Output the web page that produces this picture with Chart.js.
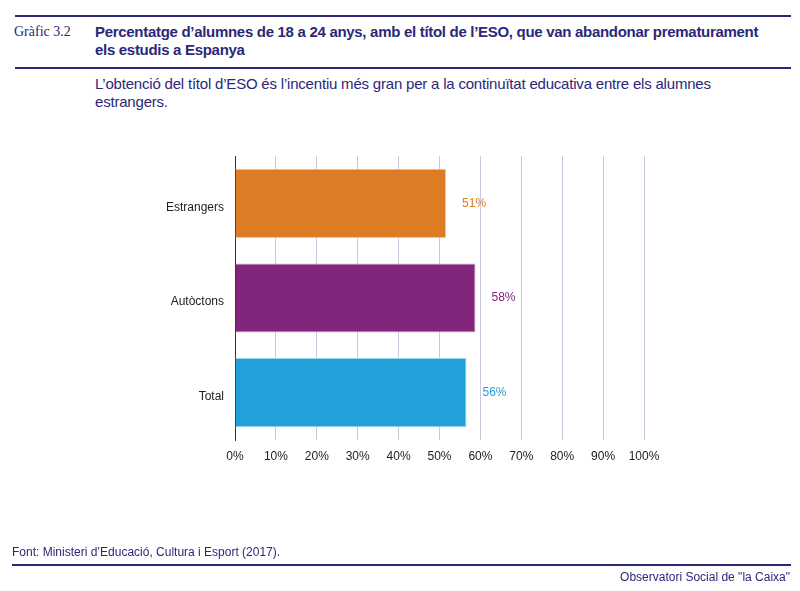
<!DOCTYPE html>
<html>
<head>
<meta charset="utf-8">
<script src="https://cdn.jsdelivr.net/npm/chart.js@4/dist/chart.umd.min.js"></script>
<style>
  html, body { margin: 0; padding: 0; background: #fff; }
  body { width: 800px; height: 591px; position: relative; overflow: hidden; font-family: "Liberation Sans", Arial, sans-serif; color: #2b2878; }
  .rule { position: absolute; left: 15px; width: 776px; height: 2px; background: #2b2878; }
  .abs { position: absolute; white-space: nowrap; }
  #num { left: 14px; top: 24px; font-family: "Liberation Serif", serif; font-size: 14px; color: #2b2878; }
  #title { left: 95px; top: 23px; font-size: 15px; font-weight: bold; line-height: 18px; letter-spacing: -0.3px; }
  #sub { left: 95px; top: 75px; font-size: 15px; line-height: 18px; letter-spacing: -0.2px; }
  #src { left: 12px; top: 545px; font-size: 12px; }
  #brand { right: 10px; top: 570px; font-size: 12px; }
  #wrap { position: absolute; left: 0; top: 0; width: 800px; height: 591px; }
</style>
</head>
<body>
<div class="rule" style="top:15px"></div>
<div class="abs" id="num">Gràfic 3.2</div>
<div class="abs" id="title">Percentatge d’alumnes de 18 a 24 anys, amb el títol de l’ESO, que van abandonar prematurament<br>els estudis a Espanya</div>
<div class="rule" style="top:67px"></div>
<div class="abs" id="sub">L’obtenció del títol d’ESO és l’incentiu més gran per a la continuïtat educativa entre els alumnes<br>estrangers.</div>
<div id="wrap"><canvas id="c"></canvas></div>
<div class="abs" id="src">Font: Ministeri d’Educació, Cultura i Esport (2017).</div>
<div class="rule" style="top:564px; left:12px; width:779px"></div>
<div class="abs" id="brand">Observatori Social de "la Caixa"</div>
<script>
const categories = ['Estrangers', 'Autòctons', 'Total'];
const values = [51.6, 58.8, 56.6];
const valueLabels = ['51%', '58%', '56%'];
const barColors = ['#de7c26', '#82267c', '#22a0da'];
const barEdges = ['#f3c49c', '#c99bc6', '#9fd4f0'];
const xTicks = [0, 10, 20, 30, 40, 50, 60, 70, 80, 90, 100];

const labelPlugin = {
  id: 'valueLabels',
  afterDatasetsDraw(chart) {
    const ctx = chart.ctx;
    const meta = chart.getDatasetMeta(0);
    ctx.save();
    ctx.font = '12px "Liberation Sans", Arial, sans-serif';
    ctx.textAlign = 'left';
    ctx.textBaseline = 'middle';
    meta.data.forEach((bar, i) => {
      ctx.fillStyle = barColors[i];
      ctx.fillText(valueLabels[i], bar.x + 16, bar.y);
    });
    ctx.restore();
  }
};

new Chart(document.getElementById('c'), {
  type: 'bar',
  data: {
    labels: categories,
    datasets: [{
      data: values,
      backgroundColor: barColors,
      borderColor: barEdges,
      borderWidth: 1,
      categoryPercentage: 1,
      barPercentage: 0.73
    }]
  },
  options: {
    indexAxis: 'y',
    responsive: true,
    maintainAspectRatio: false,
    animation: false,
    layout: { padding: { left: 0, right: 156, top: 156, bottom: 121 } },
    plugins: { legend: { display: false }, tooltip: { enabled: false } },
    scales: {
      x: {
        min: 0, max: 100,
        afterBuildTicks(axis) { axis.ticks = xTicks.map(v => ({ value: v })); },
        afterFit(axis) { axis.height = 30; },
        ticks: {
          padding: 9,
          color: '#222',
          font: { family: '"Liberation Sans", Arial, sans-serif', size: 12 },
          callback: v => v + '%'
        },
        grid: { color: '#cbc7df', drawTicks: false, lineWidth: 1 },
        border: { display: false }
      },
      y: {
        afterFit(axis) { axis.width = 235; },
        ticks: {
          padding: 11,
          labelOffset: 4,
          color: '#222',
          font: { family: '"Liberation Sans", Arial, sans-serif', size: 12 }
        },
        grid: { display: false, drawTicks: false },
        border: { display: true, color: '#2b2878', width: 1 }
      }
    }
  },
  plugins: [labelPlugin]
});
</script>
</body>
</html>
